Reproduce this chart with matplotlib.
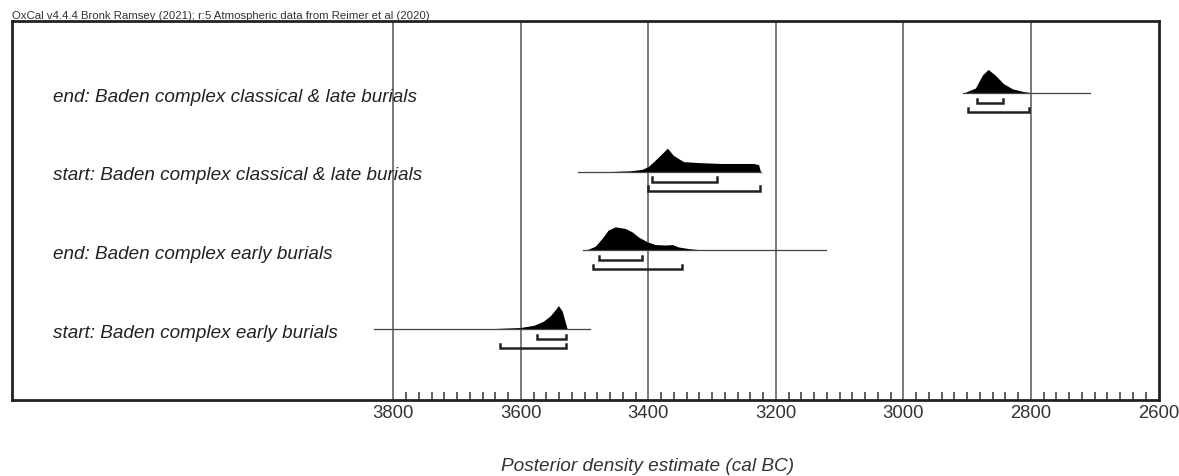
import matplotlib
matplotlib.use("Agg")
import matplotlib.pyplot as plt
import matplotlib.transforms as mtransforms

plt.rcParams["font.family"] = ["Liberation Sans", "DejaVu Sans"]

# Boundary names, listed top to bottom
labels = [
    "end: Baden complex classical & late burials",
    "start: Baden complex classical & late burials",
    "end: Baden complex early burials",
    "start: Baden complex early burials",
]

# Posterior densities: calendar years BC and relative probability (peak = 1)
end_late_years = [2906, 2887, 2876, 2867, 2856, 2843, 2829, 2813, 2801, 2708]
end_late_prob = [0.0, 0.21, 0.76, 1.0, 0.76, 0.40, 0.18, 0.07, 0.02, 0.0]

start_late_years = [3510, 3460, 3428, 3410, 3400, 3386, 3370, 3361, 3345, 3323,
                    3287, 3235, 3227, 3224]
start_late_prob = [0.0, 0.01, 0.04, 0.10, 0.22, 0.57, 1.0, 0.70, 0.43, 0.39,
                   0.35, 0.35, 0.30, 0.0]

end_early_years = [3502, 3499, 3483, 3472, 3463, 3452, 3436, 3425, 3416, 3402,
                   3389, 3373, 3362, 3353, 3337, 3322, 3306, 3270, 3121]
end_early_prob = [0.0, 0.0, 0.18, 0.53, 0.86, 1.0, 0.93, 0.78, 0.58, 0.37,
                  0.25, 0.23, 0.25, 0.15, 0.08, 0.04, 0.01, 0.0, 0.0]

start_early_years = [3831, 3700, 3648, 3601, 3580, 3565, 3554, 3546, 3541,
                     3535, 3530, 3527, 3491]
start_early_prob = [0.0, 0.005, 0.02, 0.07, 0.16, 0.33, 0.56, 0.82, 1.0,
                    0.76, 0.28, 0.0, 0.0]

density_years = [end_late_years, start_late_years, end_early_years, start_early_years]
density_prob = [end_late_prob, start_late_prob, end_early_prob, start_early_prob]

# Highest posterior density ranges (from, to) in cal BC
range_68 = [(2884, 2843), (3394, 3292), (3477, 3410), (3575, 3529)]
range_95 = [(2898, 2803), (3401, 3225), (3486, 3347), (3632, 3529)]

grid_years = [3800, 3600, 3400, 3200, 3000, 2800, 2600]
minor_years = list(range(3800, 2599, -20))

fig = plt.figure(figsize=(11.79, 4.77), dpi=100)
ax = fig.add_axes([12 / 1179, 1 - 401 / 477, 1147 / 1179, 379 / 477])

ax.set_xlim(4398, 2599)
ax.set_ylim(0.1, 4.915)

row_y = [4, 3, 2, 1]
peak_h = 0.30
off68 = 0.125
off95 = 0.24
tick_h = 0.055

for v in grid_years[:-1]:
    ax.axvline(v, color="#7a7a7a", lw=1.4, zorder=1)

trans = mtransforms.blended_transform_factory(ax.transAxes, ax.transData)
for y, yrs, prob, r68, r95, lab in zip(row_y, density_years, density_prob,
                                       range_68, range_95, labels):
    heights = [y + p * peak_h for p in prob]
    ax.fill_between(yrs, y, heights, color="black", lw=0, zorder=3)
    ax.plot([yrs[0], yrs[-1]], [y, y], color="#444444", lw=0.9, zorder=3)
    for (a, b), off in ((r68, off68), (r95, off95)):
        yb = y - off
        ax.plot([a, a, b, b], [yb + tick_h, yb, yb, yb + tick_h],
                color="#222222", lw=1.8, solid_joinstyle="miter", zorder=3)
    ax.text(41 / 1147, y - 0.04, lab, transform=trans, fontsize=13.6,
            style="italic", color="#222222", va="center", ha="left")

ax.set_yticks([])
ax.set_xticks(grid_years)
ax.set_xticklabels([str(v) for v in grid_years], fontsize=13.3, color="#333333")
ax.set_xticks(minor_years, minor=True)
ax.tick_params(axis="x", which="major", length=0, pad=3)
ax.tick_params(axis="x", which="minor", direction="in", length=6,
               width=1.2, color="#444444")
for s in ax.spines.values():
    s.set_linewidth(2)
    s.set_color("#222222")

fig.text(ax.transAxes.transform((0.0, 0))[0] / 1179 + (647.5 - 12) / 1179,
         1 - 467 / 477, "Posterior density estimate (cal BC)", fontsize=13.7,
         style="italic", color="#333333", ha="center", va="center")

fig.text(12 / 1179, 1 - 19 / 477,
         "OxCal v4.4.4 Bronk Ramsey (2021); r:5 Atmospheric data from Reimer et al (2020)",
         fontsize=8.2, color="#333333", ha="left", va="baseline")

fig.savefig("out.png", dpi=100)
